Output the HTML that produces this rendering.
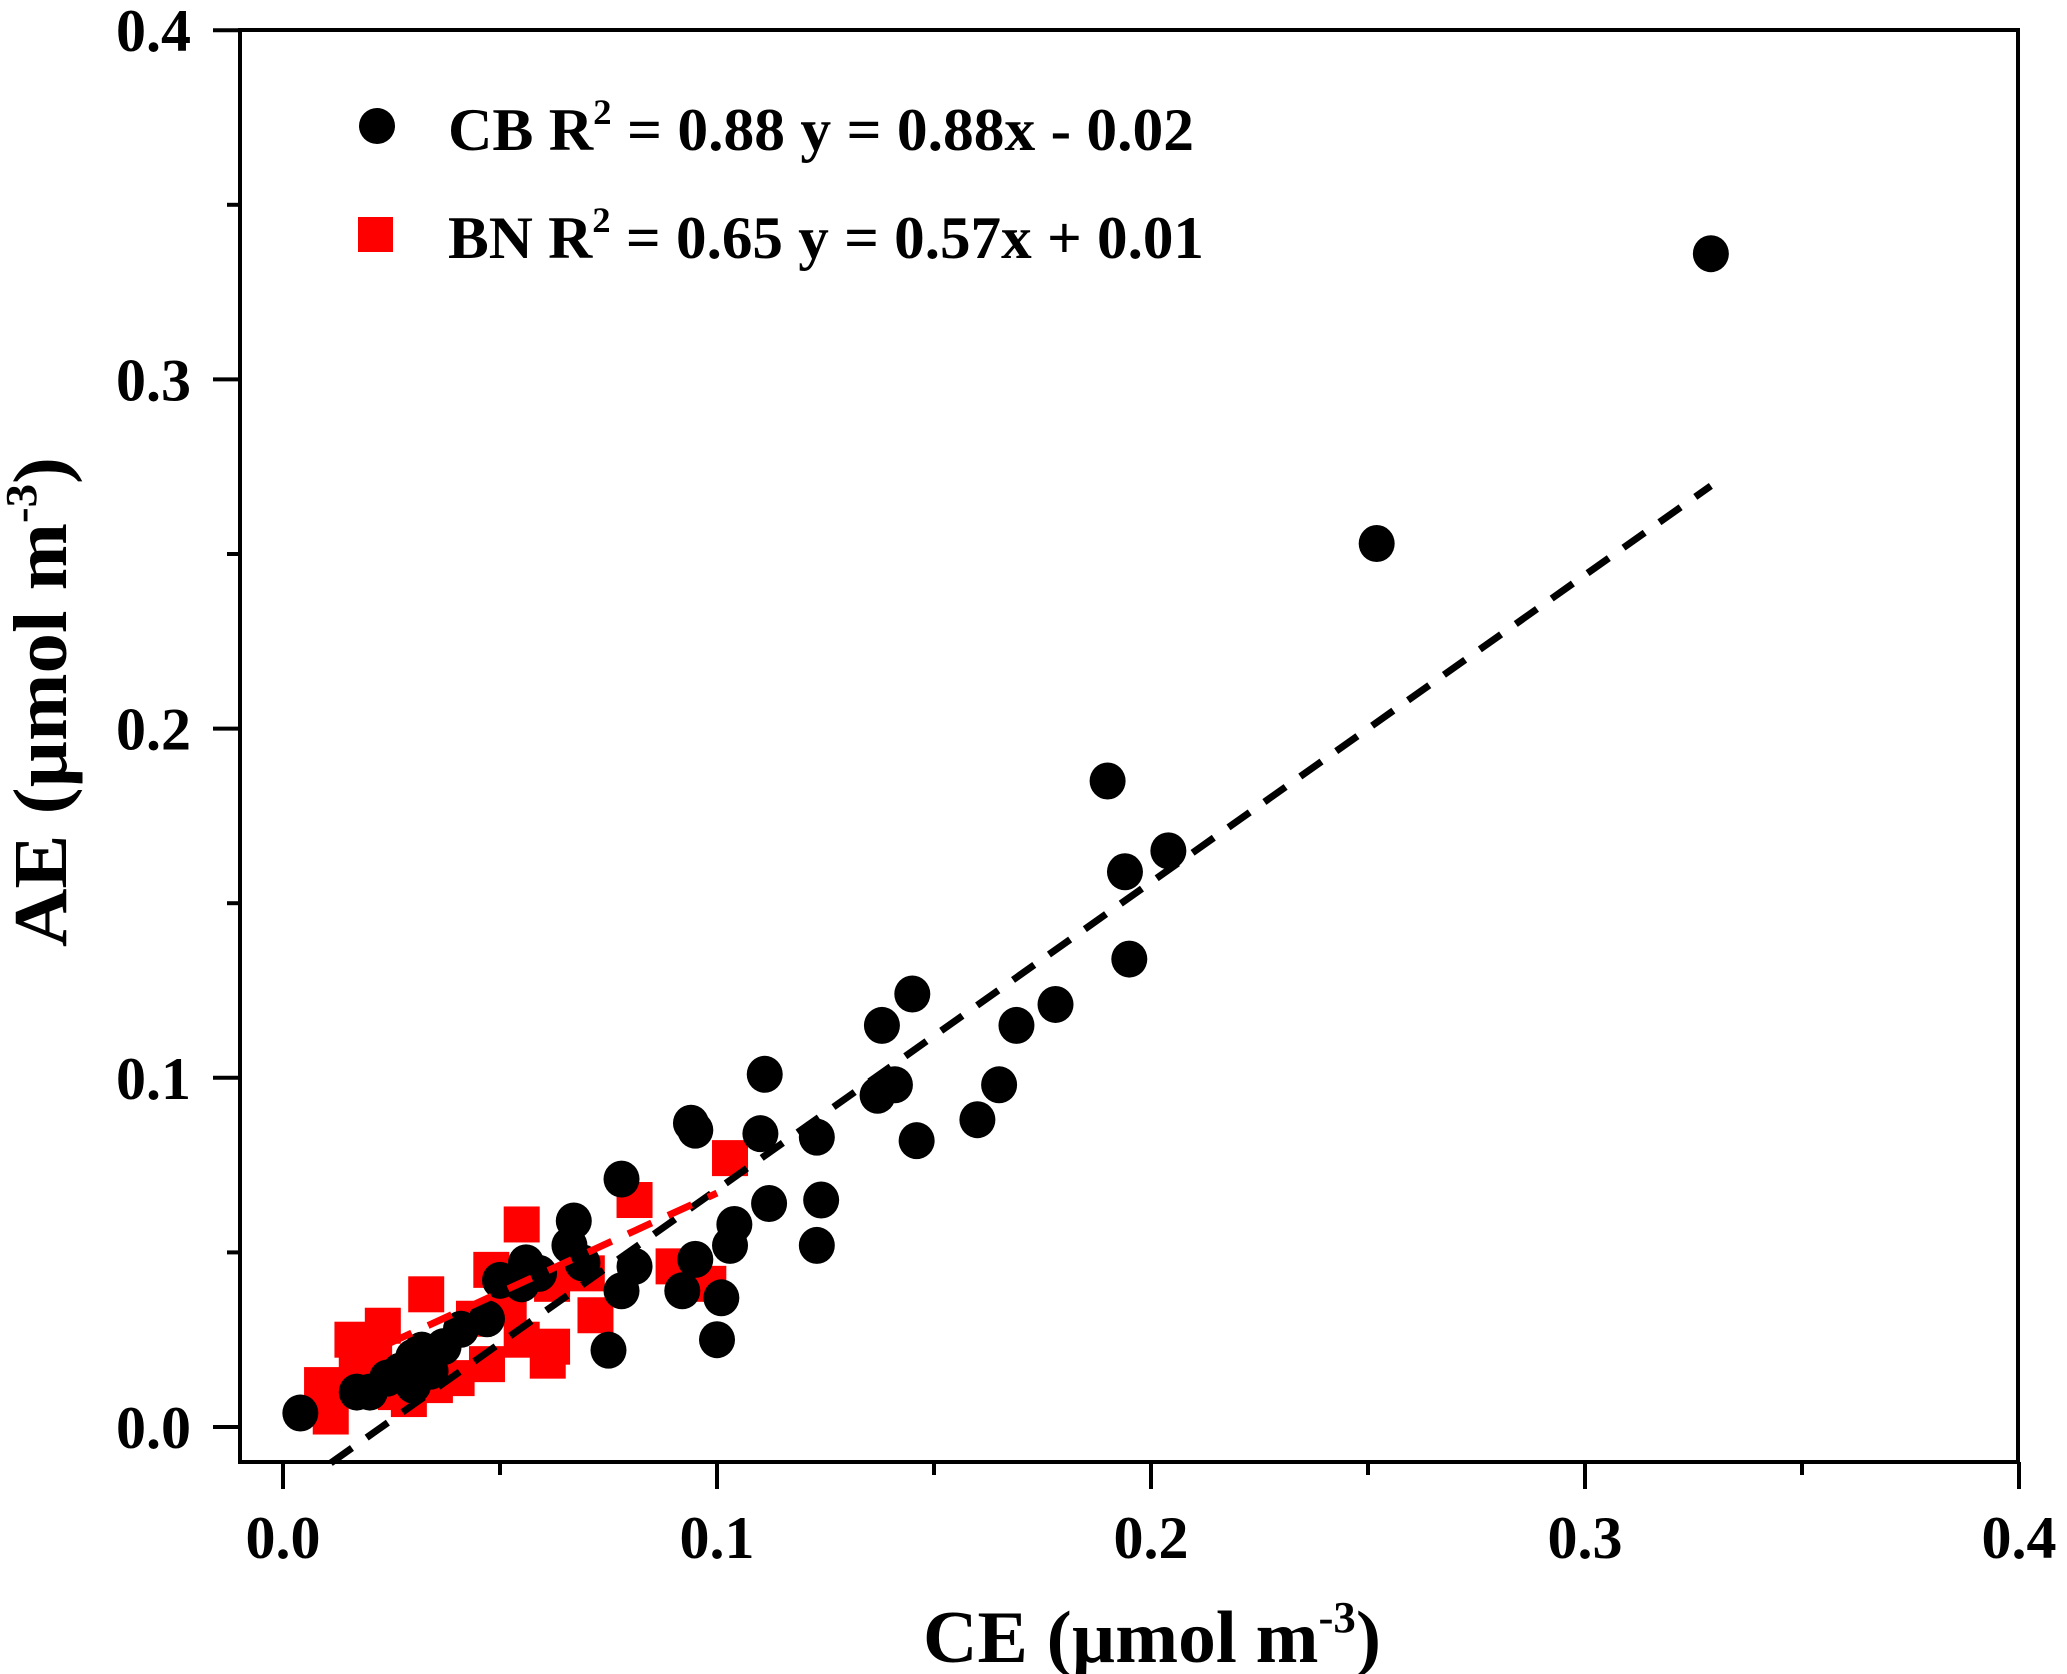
<!DOCTYPE html>
<html><head><meta charset="utf-8"><style>
html,body{margin:0;padding:0;background:#fff;}
svg{display:block;font-family:"Liberation Serif","Times New Roman",serif;font-weight:bold;}
</style></head><body>
<svg id="chart" width="2067" height="1674" viewBox="0 0 2067 1674" xmlns="http://www.w3.org/2000/svg">
<rect x="0" y="0" width="2067" height="1674" fill="#fff"/>
<g id="marks"></g>
<rect x="240" y="30" width="1778" height="1432" fill="none" stroke="#000" stroke-width="4"/>
<g id="axes"></g>
<g>
<circle cx="377" cy="126" r="18" fill="#000"/>
<text x="448" y="150" font-size="60" textLength="746" lengthAdjust="spacingAndGlyphs">CB R<tspan font-size="36" dy="-26">2</tspan><tspan dy="26"> = 0.88 y = 0.88x - 0.02</tspan></text>
<rect x="358" y="217" width="35" height="35" fill="#ff0000"/>
<text x="448" y="258" font-size="60" textLength="756" lengthAdjust="spacingAndGlyphs">BN R<tspan font-size="36" dy="-26">2</tspan><tspan dy="26"> = 0.65 y = 0.57x + 0.01</tspan></text>
</g>
<text x="1152" y="1662" font-size="62" text-anchor="middle" textLength="458" lengthAdjust="spacingAndGlyphs" style="font-size:74px">CE (µmol m<tspan font-size="44" dy="-30">-3</tspan><tspan dy="30">)</tspan></text>
<text transform="translate(66,702) rotate(-90)" x="0" y="0" text-anchor="middle" textLength="490" lengthAdjust="spacingAndGlyphs" style="font-size:76px">AE (µmol m<tspan font-size="44" dy="-30">-3</tspan><tspan dy="30">)</tspan></text>
</svg>
<script>
const cbX = [0.004,0.329,0.252,0.190,0.204,0.194,0.195,0.178,0.169,0.165,0.160,0.146,0.145,0.138,0.141,0.137,0.123,0.124,0.123,0.111,0.110,0.112,0.104,0.103,0.094,0.095,0.095,0.092,0.101,0.100,0.078,0.078,0.081,0.075,0.067,0.066,0.069,0.059,0.056,0.055,0.050,0.047,0.041,0.037,0.032,0.030,0.027,0.024,0.020,0.017,0.034,0.030];
const cbY = [0.004,0.336,0.253,0.185,0.165,0.159,0.134,0.121,0.115,0.098,0.088,0.082,0.124,0.115,0.098,0.095,0.083,0.065,0.052,0.101,0.084,0.064,0.058,0.052,0.087,0.085,0.048,0.039,0.037,0.025,0.071,0.039,0.046,0.022,0.059,0.052,0.047,0.044,0.047,0.041,0.042,0.031,0.028,0.023,0.022,0.020,0.016,0.014,0.010,0.010,0.016,0.012];
const bnX = [0.103,0.081,0.055,0.048,0.033,0.072,0.062,0.061,0.062,0.055,0.047,0.040,0.035,0.023,0.016,0.021,0.009,0.011,0.026,0.029,0.090,0.098,0.070,0.044,0.052,0.017];
const bnY = [0.077,0.065,0.058,0.045,0.038,0.032,0.023,0.019,0.041,0.025,0.018,0.014,0.012,0.029,0.025,0.020,0.012,0.003,0.010,0.008,0.046,0.041,0.044,0.031,0.035,0.016];
const cbFit = [0.88, -0.02, 0.011, 0.329];
const bnFit = [0.57, 0.01, 0.015, 0.100];
const xTicks = [0.0,0.1,0.2,0.3,0.4];
const yTicks = [0.0,0.1,0.2,0.3,0.4];
const xTickLabels = ["0.0","0.1","0.2","0.3","0.4"];
const yTickLabels = ["0.0","0.1","0.2","0.3","0.4"];

const NS = "http://www.w3.org/2000/svg";
const sx = v => 283 + v * 4340;
const sy = v => 1427 - v * 3492;
const marks = document.getElementById('marks');
const axes = document.getElementById('axes');
function mk(tag, parent, attrs){const e=document.createElementNS(NS,tag);for(const k in attrs)e.setAttribute(k,attrs[k]);parent.appendChild(e);return e;}

for(let i=0;i<bnX.length;i++){
  const r = mk('rect', marks, {x:sx(bnX[i])-18, y:sy(bnY[i])-18, width:36, height:36, fill:'#ff0000'});
  
  
}
for(let i=0;i<cbX.length;i++){
  const c = mk('ellipse', marks, {cx:sx(cbX[i]), cy:sy(cbY[i]), rx:18, ry:18.5, fill:'#000'});
  
  
}
const l1 = mk('line', marks, {x1:sx(cbFit[2]), y1:sy(cbFit[0]*cbFit[2]+cbFit[1]), x2:sx(cbFit[3]), y2:sy(cbFit[0]*cbFit[3]+cbFit[1]), stroke:'#000', 'stroke-width':7, 'stroke-dasharray':'26 18'});


const l2 = mk('line', marks, {x1:sx(bnFit[2]), y1:sy(bnFit[0]*bnFit[2]+bnFit[1]), x2:sx(bnFit[3]), y2:sy(bnFit[0]*bnFit[3]+bnFit[1]), stroke:'#ff0000', 'stroke-width':7, 'stroke-dasharray':'26 18'});



for(let i=0;i<xTicks.length;i++){
  const x = sx(xTicks[i]);
  const t = mk('line', axes, {x1:x, y1:1462, x2:x, y2:1489, stroke:'#000', 'stroke-width':4});
  
  
  const lb = mk('text', axes, {x:x, y:1558, 'font-size':60, 'text-anchor':'middle'});
  lb.textContent = xTickLabels[i];
  
  
  if(i<xTicks.length-1){
    const m = mk('line', axes, {x1:sx(xTicks[i]+0.05), y1:1462, x2:sx(xTicks[i]+0.05), y2:1475, stroke:'#000', 'stroke-width':4});
    
    
  }
}
for(let i=0;i<yTicks.length;i++){
  const y = sy(yTicks[i]);
  const t = mk('line', axes, {x1:213, y1:y, x2:240, y2:y, stroke:'#000', 'stroke-width':4});
  
  
  const lb = mk('text', axes, {x:191, y:y+21, 'font-size':60, 'text-anchor':'end'});
  lb.textContent = yTickLabels[i];
  
  
  if(i<yTicks.length-1){
    const m = mk('line', axes, {x1:227, y1:sy(yTicks[i]+0.05), x2:240, y2:sy(yTicks[i]+0.05), stroke:'#000', 'stroke-width':4});
    
    
  }
}
</script>
</body></html>
